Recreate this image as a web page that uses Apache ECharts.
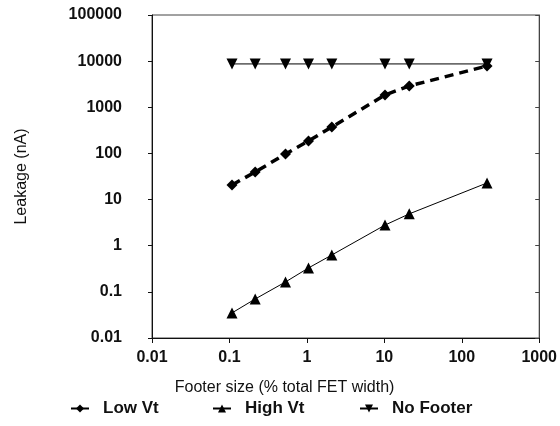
<!DOCTYPE html>
<html>
<head>
<meta charset="utf-8">
<script src="https://cdn.jsdelivr.net/npm/echarts@6/dist/echarts.min.js"></script>
<style>
  html, body { margin: 0; padding: 0; background: #fff; }
  #chart { width: 560px; height: 426px; }
</style>
</head>
<body>
<div id="chart"></div>
<script>
// footer size (% total FET width), shared by all series
const footerSize = [0.108, 0.215, 0.53, 1.05, 2.1, 10.2, 21, 212];
// leakage (nA)
const lowVt = [20.7, 39.6, 97, 186, 374, 1850, 2900, 7850];
const highVt = [0.035, 0.07, 0.164, 0.33, 0.63, 2.8, 4.9, 22.9];
const noFooter = [8700, 8700, 8700, 8700, 8700, 8700, 8700, 8700];

const pairs = (ys) => footerSize.map((x, i) => [x, ys[i]]);

const FONT = "'Liberation Sans', Arial, sans-serif";
const chart = echarts.init(document.getElementById("chart"));

const legendBase = {
  orient: "horizontal",
  top: 400,
  padding: 0,
  itemWidth: 18,
  itemHeight: 10,
  lineStyle: { type: "solid" },
  textStyle: {
    fontFamily: FONT,
    fontSize: 17,
    fontWeight: "bold",
    color: "#111",
    padding: [0, 0, 0, 9],
  },
};

chart.setOption({
  animation: false,
  grid: {
    left: 152,
    right: 14,
    top: 15,
    bottom: 88,
    show: true,
    borderColor: "#444",
    borderWidth: 1,
  },
  legend: [
    Object.assign({}, legendBase, { left: 70, data: ["Low Vt"] }),
    Object.assign({}, legendBase, { left: 212, data: ["High Vt"] }),
    Object.assign({}, legendBase, { left: 359, data: ["No Footer"] }),
  ],
  xAxis: {
    type: "log",
    logBase: 10,
    min: 0.01,
    max: 1000,
    name: "Footer size (% total FET width)",
    nameLocation: "middle",
    nameGap: 42,
    nameTextStyle: {
      fontFamily: FONT,
      fontSize: 16,
      color: "#111",
      padding: [0, 122, 0, 0],
    },
    axisLine: { lineStyle: { color: "#111", width: 1 } },
    axisTick: { show: true, length: 5, lineStyle: { color: "#111" } },
    minorTick: { show: false },
    splitLine: { show: false },
    axisLabel: {
      margin: 12,
      fontFamily: FONT,
      fontSize: 16,
      fontWeight: "bold",
      color: "#111",
      formatter: (v) => String(v),
    },
  },
  yAxis: [
    {
      type: "log",
      logBase: 10,
      min: 0.01,
      max: 100000,
      name: "Leakage (nA)",
      nameLocation: "middle",
      nameRotate: 90,
      nameGap: 122,
      nameTextStyle: { fontFamily: FONT, fontSize: 16, color: "#111" },
      axisLine: { show: true, lineStyle: { color: "#111", width: 1 } },
      axisTick: { show: true, length: 4, lineStyle: { color: "#111" } },
      splitLine: { show: false },
      axisLabel: {
        margin: 30,
        fontFamily: FONT,
        fontSize: 16,
        fontWeight: "bold",
        color: "#111",
        formatter: (v) => String(v),
      },
    },
    {
      type: "log",
      logBase: 10,
      min: 0.01,
      max: 100000,
      position: "right",
      axisLine: { show: true, lineStyle: { color: "#444", width: 1 } },
      axisTick: { show: true, inside: true, length: 4, lineStyle: { color: "#444" } },
      axisLabel: { show: false },
      splitLine: { show: false },
    },
  ],
  series: [
    {
      name: "Low Vt",
      type: "line",
      data: pairs(lowVt),
      symbol: "diamond",
      symbolSize: 11,
      itemStyle: { color: "#000" },
      lineStyle: { color: "#000", width: 3.5, type: [9, 6] },
    },
    {
      name: "High Vt",
      type: "line",
      data: pairs(highVt),
      symbol: "triangle",
      symbolSize: 11,
      itemStyle: { color: "#000" },
      lineStyle: { color: "#000", width: 1 },
    },
    {
      name: "No Footer",
      type: "line",
      data: pairs(noFooter),
      symbol: "triangle",
      symbolRotate: 180,
      symbolSize: 11,
      itemStyle: { color: "#000" },
      lineStyle: { color: "#000", width: 1 },
    },
  ],
});
</script>
</body>
</html>
